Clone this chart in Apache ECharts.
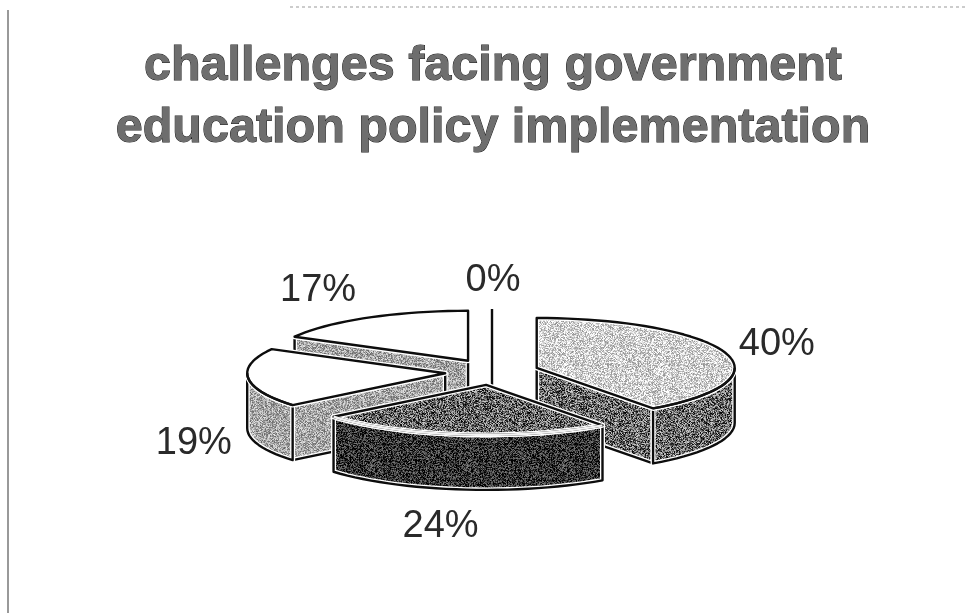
<!DOCTYPE html>
<html>
<head>
<meta charset="utf-8">
<style>html,body{margin:0;padding:0;background:#fff}#chart{width:967px;height:614px}</style>
<script src="https://cdn.jsdelivr.net/npm/echarts@6/dist/echarts.min.js"></script>
</head>
<body>
<div id="chart"></div>
<script>
// Slice values, clockwise from twelve o'clock
const sliceValues = [40, 24, 19, 17, 0];
const chartTitle = 'challenges facing government\neducation policy implementation';

// Halftone levels for each slice: top face, then side faces
const topShades = [[208, 42], [100, 70], [255, 0], [255, 0], [255, 0]];
const sideShades = [[105, 70], [50, 50], [165, 42], [165, 42], [255, 0]];
const rimColors = ['#111', '#f2f2f2', '#111', '#111', '#111'];

// Pie projection
const pie = { cx: 492, cy: 372, rx: 198, ry: 50, depth: 55, explodeX: 47, explodeY: 13 };
// Label placement relative to each slice's rim direction
const labelReach = { x: 1.27, y: 1.6 };
const labelNudge = [[1, 1], [-14, 7], [-1, 8], [-22, -1], [1, 2]];

const rad = d => d * Math.PI / 180;
const total = sliceValues.reduce((a, b) => a + b, 0);

// Angular extent and exploded apex of every slice
let running = 0;
const slices = sliceValues.map((v, i) => {
  const start = running / total * 360;
  running += v;
  const end = running / total * 360;
  const mid = rad((start + end) / 2);
  return {
    index: i, value: v, start, end, mid,
    ax: pie.cx + pie.explodeX * Math.sin(mid),
    ay: pie.cy - pie.explodeY * Math.cos(mid)
  };
});

function rimPoint(s, deg, drop) {
  return [s.ax + pie.rx * Math.sin(rad(deg)), s.ay - pie.ry * Math.cos(rad(deg)) + (drop || 0)];
}
function arcPoints(s, from, to, drop) {
  const pts = [];
  const steps = Math.max(1, Math.ceil(Math.abs(to - from) / 3));
  for (let k = 0; k <= steps; k++) pts.push(rimPoint(s, from + (to - from) * k / steps, drop));
  return pts;
}

// Grainy halftone tile from a small deterministic hash
function halftone(level, spread) {
  const size = 96;
  const c = document.createElement('canvas');
  c.width = c.height = size;
  const g = c.getContext('2d');
  const img = g.createImageData(size, size);
  for (let y = 0; y < size; y++) {
    for (let x = 0; x < size; x++) {
      const h = Math.sin(x * 12.9898 + y * 78.233) * 43758.5453;
      const n = h - Math.floor(h);
      const v = Math.max(0, Math.min(255, level + (n - 0.5) * 2 * spread * 1.5));
      const o = (y * size + x) * 4;
      img.data[o] = img.data[o + 1] = img.data[o + 2] = v;
      img.data[o + 3] = 255;
    }
  }
  g.putImageData(img, 0, 0);
  return { image: c, repeat: 'repeat' };
}
const topFills = topShades.map(s => s[1] ? halftone(s[0], s[1]) : '#fff');
const sideFills = sideShades.map(s => s[1] ? halftone(s[0], s[1]) : '#fff');

const lineStyle = { stroke: '#0d0d0d', lineWidth: 2.4, lineJoin: 'round' };

// A face gets a pale halo first, then its fill and dark outline
function face(points, fill) {
  return [
    { type: 'polygon', shape: { points }, style: { fill, stroke: '#fff', lineWidth: 5, lineJoin: 'round' } },
    { type: 'polygon', shape: { points }, style: Object.assign({ fill: null }, lineStyle) }
  ];
}

function wallPoints(s, deg) {
  return [[s.ax, s.ay], rimPoint(s, deg), rimPoint(s, deg, pie.depth), [s.ax, s.ay + pie.depth]];
}

function renderSlice(idx) {
  const s = slices[idx];
  const side = sideFills[idx];
  let children = [];

  // Cut faces that turn toward the viewer
  if (s.value === 0) {
    children.push({
      type: 'line',
      shape: { x1: s.ax, y1: rimPoint(s, s.start)[1], x2: s.ax, y2: s.ay + pie.depth },
      style: lineStyle
    });
  } else {
    if (Math.sin(rad(s.start)) < -1e-6) children = children.concat(face(wallPoints(s, s.start), side));
    if (Math.sin(rad(s.end)) > 1e-6) children = children.concat(face(wallPoints(s, s.end), side));
  }

  // Outer wall along the front half of the ellipse
  const from = Math.max(s.start, 90), to = Math.min(s.end, 270);
  if (to > from) {
    children = children.concat(face(arcPoints(s, from, to, 0).concat(arcPoints(s, to, from, pie.depth)), side));
  }

  // Top face, with its front rim in the slice's rim colour
  if (s.value > 0) {
    children = children.concat(face([[s.ax, s.ay]].concat(arcPoints(s, s.start, s.end, 0)), topFills[idx]));
    if (to > from) {
      children.push({
        type: 'polyline',
        shape: { points: arcPoints(s, from, to, 0) },
        style: { fill: null, stroke: rimColors[idx], lineWidth: 2.4 }
      });
    }
  }

  // Percentage label
  const sinM = Math.sin(s.mid), cosM = Math.cos(s.mid);
  const nudge = labelNudge[idx];
  children.push({
    type: 'text',
    z2: 10,
    style: {
      text: s.value + '%',
      x: s.ax + sinM * pie.rx * labelReach.x + nudge[0],
      y: s.ay - cosM * pie.ry * labelReach.y + (cosM < 0 ? pie.depth : 0) + nudge[1],
      align: 'center',
      verticalAlign: 'middle',
      font: '38px "Liberation Sans", Arial, sans-serif',
      fill: '#2a2a2a'
    }
  });
  return { type: 'group', children };
}

// Back-to-front drawing order
const drawOrder = slices.slice().sort((a, b) => a.ay - b.ay).map(s => s.index);

const option = {
  animation: false,
  backgroundColor: '#fff',
  title: {
    text: chartTitle,
    left: 488,
    top: 31,
    textAlign: 'center',
    textStyle: {
      fontFamily: '"Liberation Sans", Arial, sans-serif',
      fontSize: 48.5,
      fontWeight: 'bold',
      lineHeight: 62,
      color: '#6e6e6e',
      textBorderColor: '#1c1c1c',
      textBorderWidth: 1
    }
  },
  graphic: [
    { type: 'line', shape: { x1: 8, y1: 10, x2: 8, y2: 613 }, style: { stroke: '#777', lineWidth: 1.5 } },
    { type: 'line', shape: { x1: 290, y1: 7, x2: 967, y2: 7 }, style: { stroke: '#999', lineWidth: 1, lineDash: [3, 3] } }
  ],
  series: drawOrder.map((idx, order) => ({
    type: 'custom',
    coordinateSystem: 'none',
    z: 2 + order,
    silent: true,
    renderItem: () => renderSlice(idx),
    data: [sliceValues[idx]]
  }))
};
echarts.init(document.getElementById('chart'), null, { renderer: 'canvas' }).setOption(option);
</script>
</body>
</html>
